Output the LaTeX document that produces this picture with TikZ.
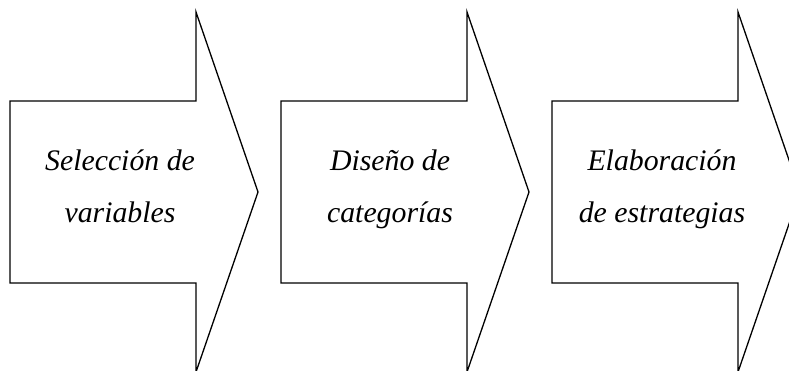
\documentclass[tikz,border=0pt]{standalone}
\usepackage{fontspec}
\setmainfont{Liberation Serif}
\usetikzlibrary{positioning}
\tikzstyle{flecha}=[draw, line width=1.3pt, fill=white]
\tikzstyle{paso}=[align=center, inner sep=0pt, font=\itshape\fontsize{29.8}{52}\selectfont]
\newcommand{\dibujaflecha}[1]{\draw[flecha] (#1) ++(0,-91) -- ++(186,0) -- ++(0,-89) -- ++(62,180) -- ++(-62,180) -- ++(0,-89) -- ++(-186,0) -- cycle;}

\begin{document}
\begin{tikzpicture}[x=1pt,y=-1pt]
    \useasboundingbox (0,0) rectangle (789,370);
    \coordinate (a) at (10,192);
    \path (a)++(271,0) coordinate (b);
    \path (b)++(271,0) coordinate (c);
    \dibujaflecha{a}
    \dibujaflecha{b}
    \dibujaflecha{c}
    \path (a)++(110,30) node [paso, anchor=base] (sel) {Selección de\\variables};
    \path (b)++(109,30) node [paso, anchor=base] (dis) {Diseño de\\categorías};
    \path (c)++(110,30) node [paso, anchor=base] (ela) {Elaboración\\de estrategias};
\end{tikzpicture}
\end{document}
